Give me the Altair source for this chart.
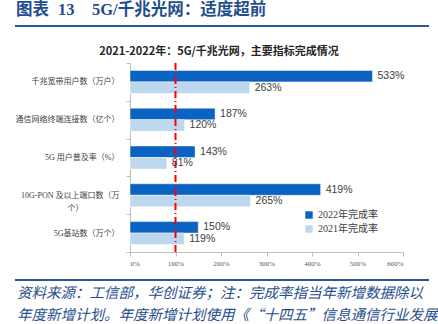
import altair as alt
import pandas as pd

categories = [
    "千兆宽带用户数（万户）",
    "通信网络终端连接数（亿个）",
    "5G 用户普及率（%）",
    "10G-PON 及以上端口数（万|个）\u3000\u3000\u3000\u3000\u3000\u2060",
    "5G基站数（万个）",
]
series = ["2022年完成率", "2021年完成率"]
v2022 = [533, 187, 143, 419, 150]
v2021 = [263, 120, 81, 265, 119]
x_ticks = [0, 100, 200, 300, 400, 500, 600]
target = [100]

header_parts = ["图表", "13", "5G/千兆光网：适度超前"]
chart_title = ["2021-2022年：5G/千兆光网，主要指标完成情况"]
footer_lines = [
    "资料来源：工信部，华创证券；注：完成率指当年新增数据除以",
    "年度新增计划。年度新增计划使用《“十四五”信息通信行业发展",
]

rows = []
for c, a, b in zip(categories, v2022, v2021):
    rows.append({"cat": c, "series": series[0], "value": a, "label": f"{a}%"})
    rows.append({"cat": c, "series": series[1], "value": b, "label": f"{b}%"})
df = pd.DataFrame(rows)

DARK = "#0A62C2"
LIGHT = "#BDD7EE"
NAVY = "#1F4E8C"
SERIF = "Liberation Serif, Noto Sans CJK SC"
CJK = "Noto Sans CJK SC"

y_enc = alt.Y(
    "cat:N",
    sort=categories,
    title=None,
    scale=alt.Scale(paddingInner=0, paddingOuter=0),
    axis=alt.Axis(
        labelExpr="split(datum.label, '|')",
        tickBand="extent",
        tickSize=4,
        labelPadding=7,
        labelFont=SERIF,
        labelFontSize=8,
        labelColor="#404040",
        labelLimit=300,
        domainColor="#BFBFBF",
        tickColor="#BFBFBF",
        labelLineHeight=13,
    ),
)
x_enc = alt.X(
    "value:Q",
    title=None,
    scale=alt.Scale(domain=[0, 600], nice=False),
    axis=alt.Axis(
        values=x_ticks,
        labelExpr="datum.value + '%'",
        grid=False,
        tickSize=4,
        labelPadding=3,
        labelFont=SERIF,
        labelFontSize=7,
        labelColor="#595959",
        domainColor="#BFBFBF",
        tickColor="#BFBFBF",
    ),
)
yoff = alt.YOffset(
    "series:N", sort=series, scale=alt.Scale(paddingInner=0, paddingOuter=0.64)
)

bars = alt.Chart(df).mark_bar(stroke="white", strokeWidth=0.5).encode(
    x=x_enc,
    y=y_enc,
    yOffset=yoff,
    color=alt.Color(
        "series:N",
        sort=series,
        scale=alt.Scale(domain=series, range=[DARK, LIGHT]),
        legend=alt.Legend(
            title=None,
            orient="none",
            legendX=174,
            legendY=147,
            symbolType="square",
            symbolSize=55,
            symbolStrokeWidth=0,
            labelFont=SERIF,
            labelFontSize=10,
            labelColor="#404040",
            rowPadding=4,
        ),
    ),
)

labels = alt.Chart(df).mark_text(
    align="left", baseline="middle", dx=5, fontSize=10.5, font="Liberation Sans", color="#404040"
).encode(x="value:Q", y=alt.Y("cat:N", sort=categories), yOffset=alt.YOffset("series:N", sort=series), text="label:N")

rule = alt.Chart(pd.DataFrame({"x": target})).mark_rule(
    color="#FF0000", strokeWidth=2, strokeDash=[7, 3, 1, 3]
).encode(x="x:Q")

hdr_df = pd.DataFrame({"t": header_parts, "px": [-114, -72, -38]})
header = alt.Chart(hdr_df).mark_text(
    align="left", baseline="middle", fontSize=16.5, fontWeight="bold", font=SERIF, color=NAVY
).encode(text="t:N", x=alt.X("px:Q", scale=None), y=alt.value(-53))

top_line = alt.Chart(pd.DataFrame({"a": [0]})).mark_rule(color="#2B5797", strokeWidth=2).encode(
    x=alt.value(-115), x2=alt.value(299), y=alt.value(-37)
)

title = alt.Chart(pd.DataFrame({"t": chart_title})).mark_text(
    align="center", baseline="middle", fontSize=11, fontWeight="bold", font=CJK, color="#262626"
).encode(text="t:N", x=alt.value(89), y=alt.value(-11))

bottom_line = alt.Chart(pd.DataFrame({"a": [0]})).mark_rule(color="#2B5797", strokeWidth=2).encode(
    x=alt.value(-115), x2=alt.value(299), y=alt.value(217)
)

ft_df = pd.DataFrame({"t": footer_lines, "py": [231, 253]})
footer = alt.Chart(ft_df).mark_text(
    align="left", baseline="middle", fontSize=14.5, fontStyle="italic", font=CJK, color=NAVY
).encode(text="t:N", x=alt.value(-113), y=alt.Y("py:Q", scale=None))

chart = alt.layer(
    bars, rule, labels, header, top_line, title, bottom_line, footer
).resolve_scale(x="shared").properties(
    width=273,
    height=189,
    autosize=alt.AutoSizeParams(type="none"),
    padding={"left": 130, "top": 63, "right": 35, "bottom": 72},
    background="white",
).configure_view(stroke=None)

chart.save("out.html", embed_options={"renderer": "svg", "actions": False})
